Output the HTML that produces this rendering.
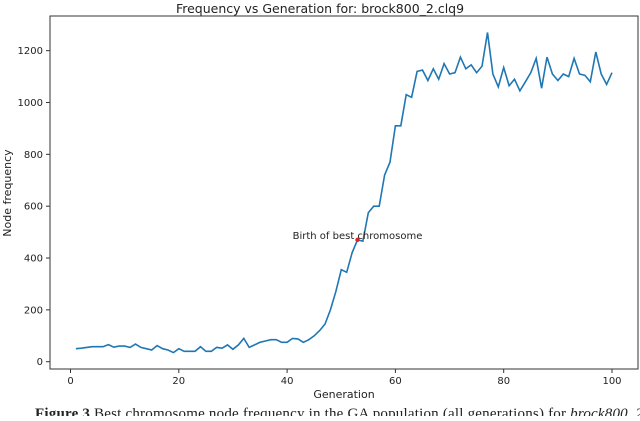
<!DOCTYPE html>
<html><head><meta charset="utf-8"><style>
body{margin:0;background:#fff;width:640px;height:416px;overflow:hidden}
svg text{font-family:"DejaVu Sans","Liberation Sans",sans-serif;fill:#222}
</style></head><body>
<svg id="chart" width="640" height="416">
<text x="320" y="13" font-size="12.5" text-anchor="middle">Frequency vs Generation for: brock800_2.clq9</text>
<rect x="50" y="16" width="588" height="353" fill="none" stroke="#333" stroke-width="1"/>
<g id="xt"></g>
<g id="yt"></g>
<text x="344" y="398" font-size="11" text-anchor="middle">Generation</text>
<text transform="translate(11,193) rotate(-90)" font-size="11" text-anchor="middle">Node frequency</text>
<path id="line" fill="none" stroke="#1f77b4" stroke-width="1.6"/>
<circle id="mark" r="2.2" fill="#d62728"/>
<text id="ann" font-size="10" text-anchor="middle">Birth of best chromosome</text>
<text x="35" y="418" font-size="15" textLength="612" style="font-family:'Liberation Serif',serif"><tspan font-weight="bold">Figure 3</tspan> Best chromosome node frequency in the GA population (all generations) for <tspan font-style="italic">brock800_2.</tspan></text>
</svg>
<script>
const freqValues=[50,52,55,58,58,58,66,56,60,60,55,68,55,50,45,62,50,45,35,50,40,40,40,58,40,40,55,52,65,48,65,90,55,65,75,80,85,85,75,75,90,88,75,85,100,120,145,200,270,355,345,420,470,465,575,600,600,720,770,910,910,1030,1020,1120,1125,1085,1130,1090,1150,1110,1115,1175,1130,1145,1115,1140,1270,1110,1060,1135,1065,1090,1045,1080,1115,1170,1055,1175,1110,1085,1110,1100,1170,1110,1105,1080,1195,1110,1070,1115];
const xTicks=[0,20,40,60,80,100];
const yTicks=[0,200,400,600,800,1000,1200];
const bestGen=[53];
const NS="http://www.w3.org/2000/svg";
const X=g=>70.5+g*5.415, Y=v=>361.7-v*0.2592;
const xt=document.getElementById('xt'), yt=document.getElementById('yt');
xTicks.forEach(t=>{
  const l=document.createElementNS(NS,'line');
  l.setAttribute('x1',X(t));l.setAttribute('x2',X(t));l.setAttribute('y1',369);l.setAttribute('y2',373);l.setAttribute('stroke','#333');
  
  
  xt.appendChild(l);
  const tx=document.createElementNS(NS,'text');
  tx.setAttribute('x',X(t));tx.setAttribute('y',384);tx.setAttribute('font-size','10');tx.setAttribute('text-anchor','middle');tx.textContent=t;
  
  
  xt.appendChild(tx);
});
yTicks.forEach(t=>{
  const l=document.createElementNS(NS,'line');
  l.setAttribute('x1',46);l.setAttribute('x2',50);l.setAttribute('y1',Y(t));l.setAttribute('y2',Y(t));l.setAttribute('stroke','#333');
  
  
  yt.appendChild(l);
  const tx=document.createElementNS(NS,'text');
  tx.setAttribute('x',43);tx.setAttribute('y',Y(t)+3.5);tx.setAttribute('font-size','10');tx.setAttribute('text-anchor','end');tx.textContent=t;
  
  
  yt.appendChild(tx);
});
document.getElementById('line').setAttribute('d',freqValues.map((v,i)=>(i?'L':'M')+X(i+1).toFixed(1)+','+Y(v).toFixed(1)).join(''));
const bg=bestGen[0], bv=freqValues[bg-1];
const m=document.getElementById('mark');m.setAttribute('cx',X(bg));m.setAttribute('cy',Y(bv));
const a=document.getElementById('ann');a.setAttribute('x',X(bg));a.setAttribute('y',Y(bv)-1);
</script>
</body></html>
